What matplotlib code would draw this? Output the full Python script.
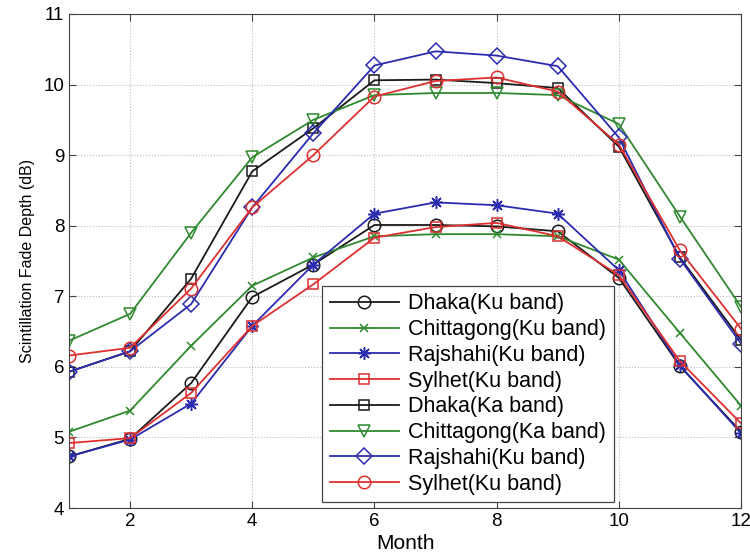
import numpy as np
import matplotlib.pyplot as plt

plt.rcParams['font.family'] = ['Liberation Sans', 'DejaVu Sans']

months = np.arange(1, 13)

# Ku band
dhaka_ku = [4.73, 4.98, 5.77, 6.99, 7.45, 8.01, 8.01, 7.99, 7.92, 7.26, 6.01, 5.08]
chittagong_ku = [5.08, 5.38, 6.30, 7.15, 7.55, 7.85, 7.88, 7.88, 7.85, 7.52, 6.48, 5.45]
rajshahi_ku = [4.73, 4.97, 5.48, 6.58, 7.45, 8.17, 8.33, 8.29, 8.17, 7.37, 6.02, 5.06]
sylhet_ku = [4.92, 4.99, 5.63, 6.58, 7.17, 7.83, 7.98, 8.04, 7.85, 7.30, 6.08, 5.20]
# Ka band
dhaka_ka = [5.93, 6.22, 7.25, 8.77, 9.38, 10.06, 10.07, 10.02, 9.95, 9.12, 7.55, 6.38]
chittagong_ka = [6.37, 6.75, 7.90, 8.97, 9.50, 9.85, 9.88, 9.88, 9.85, 9.44, 8.13, 6.85]
rajshahi_ka = [5.93, 6.22, 6.89, 8.26, 9.31, 10.27, 10.47, 10.41, 10.26, 9.25, 7.53, 6.33]
sylhet_ka = [6.16, 6.27, 7.11, 8.26, 9.00, 9.83, 10.05, 10.10, 9.90, 9.15, 7.65, 6.54]

labels = ['Dhaka(Ku band)', 'Chittagong(Ku band)', 'Rajshahi(Ku band)', 'Sylhet(Ku band)',
          'Dhaka(Ka band)', 'Chittagong(Ka band)', 'Rajshahi(Ku band)', 'Sylhet(Ku band)']
series = [dhaka_ku, chittagong_ku, rajshahi_ku, sylhet_ku,
          dhaka_ka, chittagong_ka, rajshahi_ka, sylhet_ka]

black, green, blue, red = '#1a1a1a', '#2f8a2f', '#2b2bb0', '#dd3030'
colors = [black, green, blue, red, black, green, blue, red]
markers = ['o', 'x', (8, 2, 0), 's', 's', 'v', 'D', 'o']
msizes = [9, 6, 9, 7, 7, 9, 8, 9]

fig = plt.figure(figsize=(7.5, 5.58), dpi=100)
ax = fig.add_axes([0.092, 0.0896, 0.896, 0.8854])

for y, lab, c, m, ms in zip(series, labels, colors, markers, msizes):
    ax.plot(months, y, color=c, marker=m, markersize=ms, markerfacecolor='none',
            markeredgecolor=c, markeredgewidth=1.1, linewidth=1.3, label=lab)

ax.set_xlim(1, 12)
ax.set_ylim(4, 11)
ax.set_xticks([2, 4, 6, 8, 10, 12])
ax.set_yticks(range(4, 12))
ax.grid(True, linestyle=':', color='#bbbbbb', linewidth=0.8)
ax.tick_params(direction='in', top=True, right=True, labelsize=13.5, length=5,
               color='#444444')
for sp in ax.spines.values():
    sp.set_color('#444444')

ax.set_xlabel('Month', fontsize=15, labelpad=3)
ax.set_ylabel('Scintillation Fade Depth (dB)', fontsize=11.5, labelpad=6)

leg = ax.legend(loc='lower right', bbox_to_anchor=(0.811, 0.012), borderaxespad=0,
                fontsize=15.5, labelspacing=0.22, handlelength=3.2, handletextpad=0.45,
                borderpad=0.35, fancybox=False, edgecolor='#444444', framealpha=1)
leg.get_frame().set_linewidth(0.9)

fig.savefig('out.png', dpi=100)
